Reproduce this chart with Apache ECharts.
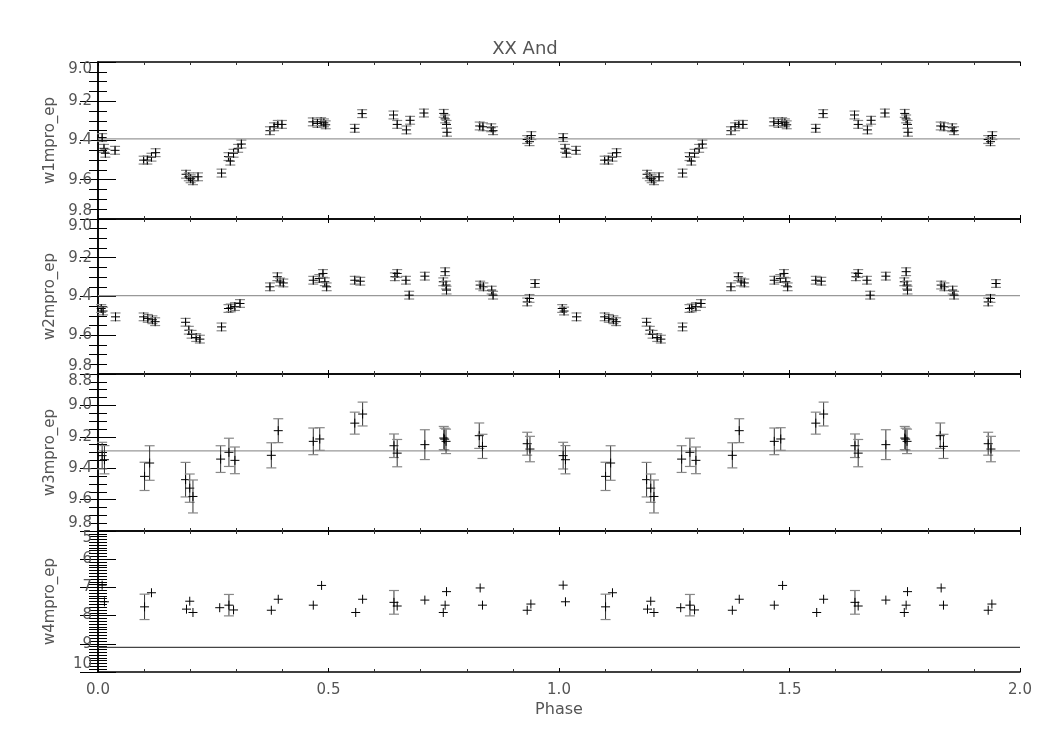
<!DOCTYPE html>
<html>
<head>
<meta charset="utf-8">
<script src="https://cdn.jsdelivr.net/npm/echarts@6/dist/echarts.min.js"></script>
<style>html,body{margin:0;padding:0;background:#fff}#chart{width:1050px;height:750px}</style>
</head>
<body>
<div id="chart"></div>
<script>
// ---- data (phase 0..1, shown again at phase+1) ----
const title = 'XX And';
const xName = 'Phase';
const bandNames = ['w1mpro_ep', 'w2mpro_ep', 'w3mpro_ep', 'w4mpro_ep'];

const w1Phase = [0.009,0.013,0.016,0.037, 0.099,0.107,0.116,0.125, 0.191,0.197,0.201,0.206,0.217, 0.268,0.283,0.287,0.294,0.304,0.311, 0.373,0.382,0.390,0.399, 0.466,0.476,0.484,0.490,0.494, 0.557,0.573, 0.641,0.649,0.669,0.677, 0.707, 0.750,0.753,0.756,0.757, 0.828,0.835,0.853,0.857, 0.931,0.936,0.940];
const w1Mag   = [9.385,9.440,9.465,9.450, 9.500,9.500,9.485,9.462, 9.572,9.585,9.595,9.605,9.585, 9.566,9.482,9.505,9.465,9.440,9.418, 9.350,9.330,9.318,9.318, 9.305,9.313,9.304,9.310,9.320, 9.338,9.263, 9.270,9.318,9.346,9.297, 9.260, 9.262,9.290,9.318,9.358, 9.326,9.330,9.335,9.350, 9.395,9.406,9.375];
const w1Err   = [0.02,0.02,0.02,0.02, 0.02,0.02,0.02,0.02, 0.02,0.02,0.02,0.02,0.02, 0.02,0.02,0.02,0.02,0.02,0.02, 0.02,0.02,0.02,0.02, 0.02,0.02,0.02,0.02,0.02, 0.02,0.02, 0.02,0.02,0.02,0.02, 0.02, 0.02,0.02,0.02,0.02, 0.02,0.02,0.02,0.02, 0.02,0.02,0.02];

const w2Phase = [0.007,0.011,0.038, 0.099,0.108,0.118,0.124, 0.190,0.197,0.203,0.213,0.221, 0.268,0.283,0.288,0.297,0.308, 0.373,0.389,0.395,0.402, 0.467,0.480,0.488,0.492,0.496, 0.557,0.569, 0.644,0.649,0.668,0.675, 0.709, 0.749,0.753,0.755,0.756, 0.829,0.836,0.854,0.857, 0.931,0.936,0.948];
const w2Mag   = [9.462,9.475,9.505, 9.505,9.513,9.520,9.530, 9.533,9.574,9.595,9.612,9.620, 9.557,9.462,9.459,9.452,9.436, 9.350,9.298,9.325,9.330, 9.316,9.307,9.281,9.324,9.350, 9.316,9.321, 9.298,9.281,9.316,9.393, 9.295, 9.324,9.272,9.341,9.367, 9.341,9.350,9.367,9.393, 9.428,9.410,9.333];
const w2Err   = [0.02,0.02,0.02, 0.02,0.02,0.02,0.02, 0.02,0.02,0.02,0.02,0.02, 0.02,0.02,0.02,0.02,0.02, 0.02,0.02,0.02,0.02, 0.02,0.02,0.02,0.02,0.02, 0.02,0.02, 0.02,0.02,0.02,0.02, 0.02, 0.02,0.02,0.02,0.02, 0.02,0.02,0.02,0.02, 0.02,0.02,0.02];

const w3Phase = [0.009,0.014, 0.101,0.112, 0.190,0.199,0.206, 0.266,0.284,0.297, 0.376,0.391, 0.467,0.481, 0.557,0.574, 0.642,0.649, 0.709, 0.750,0.752,0.755, 0.827,0.834, 0.931,0.937];
const w3Mag   = [9.320,9.346, 9.452,9.367, 9.473,9.527,9.580, 9.342,9.299,9.350, 9.318,9.161, 9.229,9.214, 9.113,9.055, 9.257,9.304, 9.250, 9.208,9.215,9.229, 9.193,9.261, 9.244,9.278];
const w3Err   = [0.085,0.090, 0.090,0.110, 0.110,0.090,0.105, 0.085,0.090,0.085, 0.080,0.076, 0.085,0.072, 0.070,0.076, 0.075,0.087, 0.095, 0.074,0.070,0.078, 0.081,0.077, 0.073,0.081];

const w4Phase = [0.009,0.014, 0.101,0.116, 0.192,0.199,0.206, 0.264,0.284,0.294, 0.376,0.391, 0.467,0.485, 0.559,0.574, 0.642,0.649, 0.709, 0.749,0.753,0.756, 0.829,0.834, 0.931,0.939];
const w4Mag   = [6.92,7.51, 7.69,7.19, 7.77,7.49,7.89, 7.72,7.63,7.80, 7.81,7.42, 7.63,6.93, 7.89,7.42, 7.53,7.66, 7.45, 7.89,7.63,7.15, 7.02,7.63, 7.81,7.59];
const w4Err   = [0,0, 0.45,0, 0,0,0, 0,0.38,0, 0,0, 0,0, 0,0, 0.42,0, 0, 0,0,0, 0,0, 0,0];

const meanMag = [9.392, 9.395, 9.29, 9.13];
const yMin = [9.0, 9.0, 8.8, 5];
const yMax = [9.8, 9.8, 9.8, 10];
const yStep = [0.2, 0.2, 0.2, 1];
const yMinorSplit = [4, 4, 4, 10];
const xTickLabels = ['0.0', '0.5', '1.0', '1.5', '2.0'];

// ---- build ----
const bands = [
  [w1Phase, w1Mag, w1Err],
  [w2Phase, w2Mag, w2Err],
  [w3Phase, w3Mag, w3Err],
  [w4Phase, w4Mag, w4Err]
];
function folded(b) {
  const out = [];
  for (let c = 0; c < 2; c++) {
    for (let i = 0; i < b[0].length; i++) out.push([b[0][i] + c, b[1][i], b[2][i]]);
  }
  return out;
}

const FONT = 'DejaVu Sans';
const TXT = '#555';
const grids = [
  {left: 98, width: 922, top: 62, height: 157},
  {left: 98, width: 922, top: 219, height: 155},
  {left: 98, width: 922, top: 374, height: 157},
  {left: 98, width: 922, top: 531, height: 141}
];

const xAxes = [], yAxes = [], series = [];
grids.forEach((g, k) => {
  const last = k === 3;
  // bottom x axis
  xAxes.push({
    gridIndex: k, type: 'value', min: 0, max: 2, interval: 0.5, position: 'bottom',
    axisLine: {show: true, lineStyle: {color: '#000', width: 1.5}},
    axisTick: {show: true, inside: true, length: 4, lineStyle: {color: '#000'}},
    minorTick: {show: true, splitNumber: 5, length: 3, lineStyle: {color: '#333'}},
    splitLine: {show: false},
    axisLabel: {show: last, margin: 11, fontFamily: FONT, fontSize: 15, color: TXT,
      formatter: v => xTickLabels[Math.round(v / 0.5)]},
    name: last ? xName : '', nameLocation: 'middle', nameGap: 30,
    nameTextStyle: {fontFamily: FONT, fontSize: 16, color: TXT}
  });
  // top x axis (ticks only)
  xAxes.push({
    gridIndex: k, type: 'value', min: 0, max: 2, interval: 0.5, position: 'top',
    axisLine: {show: true, lineStyle: {color: '#000', width: 1.5}},
    axisTick: {show: true, inside: true, length: 4, lineStyle: {color: '#000'}},
    minorTick: {show: true, splitNumber: 5, length: 3, lineStyle: {color: '#333'}},
    splitLine: {show: false}, axisLabel: {show: false}
  });
  const common = {
    gridIndex: k, type: 'value', inverse: true,
    min: yMin[k], max: yMax[k], interval: yStep[k],
    axisLine: {show: true, lineStyle: {color: '#000', width: 1.5}},
    axisTick: {show: true, inside: true, length: 18, lineStyle: {color: '#000'}},
    minorTick: {show: true, splitNumber: yMinorSplit[k], length: 9, lineStyle: {color: '#000'}},
    splitLine: {show: false}
  };
  yAxes.push(Object.assign({}, common, {
    position: 'left',
    axisLabel: {show: true, margin: 6, fontFamily: FONT, fontSize: 15, color: TXT,
      verticalAlignMinLabel: 'top', verticalAlignMaxLabel: 'bottom',
      formatter: v => k === 3 ? String(Math.round(v)) : v.toFixed(1)},
    name: bandNames[k], nameLocation: 'middle', nameGap: 40, nameRotate: 90,
    nameTextStyle: {fontFamily: FONT, fontSize: 15, color: TXT}
  }));
  yAxes.push(Object.assign({}, common, {position: 'right', axisLabel: {show: false}}));

  // mean line
  series.push({
    type: 'line', xAxisIndex: 2 * k, yAxisIndex: 2 * k,
    data: [[0, meanMag[k]], [2, meanMag[k]]],
    symbol: 'none', silent: true,
    lineStyle: {color: k === 3 ? '#444' : '#999', width: 1.3}, z: 1
  });
  // data points with error bars
  series.push({
    type: 'custom', xAxisIndex: 2 * k, yAxisIndex: 2 * k,
    data: folded(bands[k]), z: 3,
    renderItem: function (params, api) {
      const x = api.value(0), y = api.value(1), e = api.value(2);
      const c = api.coord([x, y]);
      const arm = 4.5, cap = 5;
      const ch = [];
      if (e > 0) {
        const t = api.coord([x, y - e]), b = api.coord([x, y + e]);
        ch.push({type: 'line', shape: {x1: c[0], y1: t[1], x2: c[0], y2: b[1]}, style: {stroke: '#333', lineWidth: 1}});
        ch.push({type: 'line', shape: {x1: c[0] - cap, y1: t[1], x2: c[0] + cap, y2: t[1]}, style: {stroke: '#888', lineWidth: 1.2}});
        ch.push({type: 'line', shape: {x1: c[0] - cap, y1: b[1], x2: c[0] + cap, y2: b[1]}, style: {stroke: '#888', lineWidth: 1.2}});
      }
      ch.push({type: 'line', shape: {x1: c[0] - arm, y1: c[1], x2: c[0] + arm, y2: c[1]}, style: {stroke: '#000', lineWidth: 1}});
      ch.push({type: 'line', shape: {x1: c[0], y1: c[1] - arm, x2: c[0], y2: c[1] + arm}, style: {stroke: '#000', lineWidth: 1}});
      return {type: 'group', children: ch};
    }
  });
});

const chart = echarts.init(document.getElementById('chart'), null, {renderer: 'canvas'});
chart.setOption({
  animation: false,
  backgroundColor: '#fff',
  title: {text: title, left: 'center', top: 35, textStyle: {fontFamily: FONT, fontSize: 18, fontWeight: 'normal', color: TXT}},
  grid: grids,
  xAxis: xAxes,
  yAxis: yAxes,
  series: series
});
</script>
</body>
</html>
